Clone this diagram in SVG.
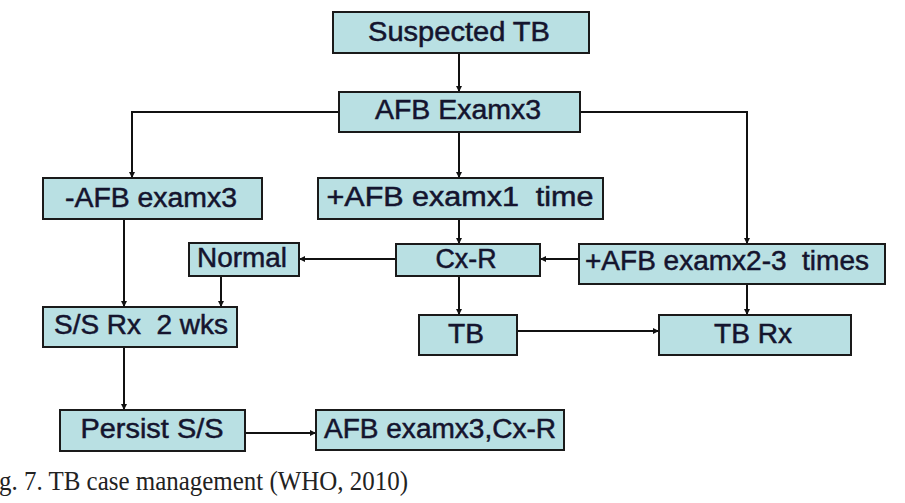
<svg xmlns="http://www.w3.org/2000/svg" width="905" height="503" viewBox="0 0 905 503">
<style>
.box{fill:#b9e0e3;stroke:#1a1a1a;stroke-width:2}
.lbl{font-family:"Liberation Sans",Arial,sans-serif;font-size:27px;fill:#14142e;text-anchor:middle;stroke:#14142e;stroke-width:0.5;white-space:pre}
.con{fill:none;stroke:#111;stroke-width:2}
.cap{font-family:"Liberation Serif","Times New Roman",serif;font-size:27px;fill:#222}
</style>
<defs>
<marker id="ah" markerWidth="6" markerHeight="6" refX="5" refY="3" orient="auto" markerUnits="userSpaceOnUse">
<path d="M0,0 L6,3 L0,6 z" fill="#111"/>
</marker>
</defs>
<rect width="905" height="503" fill="#fff"/>
<g id="connectors">
<path class="con" d="M459,53 V91" marker-end="url(#ah)"/>
<path class="con" d="M339,112 H132 V177" marker-end="url(#ah)"/>
<path class="con" d="M459,132 V177" marker-end="url(#ah)"/>
<path class="con" d="M580,112 H747 V243" marker-end="url(#ah)"/>
<path class="con" d="M459,219 V243" marker-end="url(#ah)"/>
<path class="con" d="M579,259 H541" marker-end="url(#ah)"/>
<path class="con" d="M396,259 H300" marker-end="url(#ah)"/>
<path class="con" d="M124,219 V306" marker-end="url(#ah)"/>
<path class="con" d="M221,276 V306" marker-end="url(#ah)"/>
<path class="con" d="M459,276 V314" marker-end="url(#ah)"/>
<path class="con" d="M747,284 V314" marker-end="url(#ah)"/>
<path class="con" d="M517,331 H658" marker-end="url(#ah)"/>
<path class="con" d="M124,347 V409" marker-end="url(#ah)"/>
<path class="con" d="M245,433 H315" marker-end="url(#ah)"/>
</g>
<g id="suspected-tb"><rect class="box" x="333" y="12" width="256" height="41"/><text class="lbl" x="459" y="41" textLength="182" lengthAdjust="spacingAndGlyphs">Suspected TB</text></g>
<g id="afb-examx3"><rect class="box" x="339" y="92" width="241" height="40"/><text class="lbl" x="458" y="119" textLength="166" lengthAdjust="spacingAndGlyphs">AFB Examx3</text></g>
<g id="neg-afb"><rect class="box" x="43" y="178" width="219" height="41"/><text class="lbl" x="151" y="207" textLength="172" lengthAdjust="spacingAndGlyphs">-AFB examx3</text></g>
<g id="pos-afb-1"><rect class="box" x="318" y="178" width="285" height="41"/><text class="lbl" x="460" y="206" textLength="267" lengthAdjust="spacingAndGlyphs" xml:space="preserve">+AFB examx1  time</text></g>
<g id="normal"><rect class="box" x="189" y="243" width="110" height="33"/><text class="lbl" x="242" y="267" textLength="90" lengthAdjust="spacingAndGlyphs">Normal</text></g>
<g id="cxr"><rect class="box" x="396" y="244" width="144" height="32"/><text class="lbl" x="466" y="268" textLength="61" lengthAdjust="spacingAndGlyphs">Cx-R</text></g>
<g id="pos-afb-23"><rect class="box" x="579" y="244" width="306" height="40"/><text class="lbl" x="727" y="270" textLength="284" lengthAdjust="spacingAndGlyphs" xml:space="preserve">+AFB examx2-3  times</text></g>
<g id="tb"><rect class="box" x="419" y="315" width="98" height="40"/><text class="lbl" x="466" y="343" textLength="36" lengthAdjust="spacingAndGlyphs">TB</text></g>
<g id="tb-rx"><rect class="box" x="659" y="315" width="192" height="40"/><text class="lbl" x="753" y="343" textLength="78" lengthAdjust="spacingAndGlyphs">TB Rx</text></g>
<g id="ss-rx"><rect class="box" x="43" y="307" width="194" height="40"/><text class="lbl" x="141" y="334" textLength="174" lengthAdjust="spacingAndGlyphs" xml:space="preserve">S/S Rx  2 wks</text></g>
<g id="persist"><rect class="box" x="60" y="410" width="185" height="41"/><text class="lbl" x="152" y="438" textLength="143" lengthAdjust="spacingAndGlyphs">Persist S/S</text></g>
<g id="afb-cxr"><rect class="box" x="316" y="410" width="248" height="40"/><text class="lbl" x="440" y="438" textLength="232" lengthAdjust="spacingAndGlyphs">AFB examx3,Cx-R</text></g>
<text class="cap" x="-1" y="490" textLength="409" lengthAdjust="spacingAndGlyphs">g. 7. TB case management (WHO, 2010)</text>
</svg>
